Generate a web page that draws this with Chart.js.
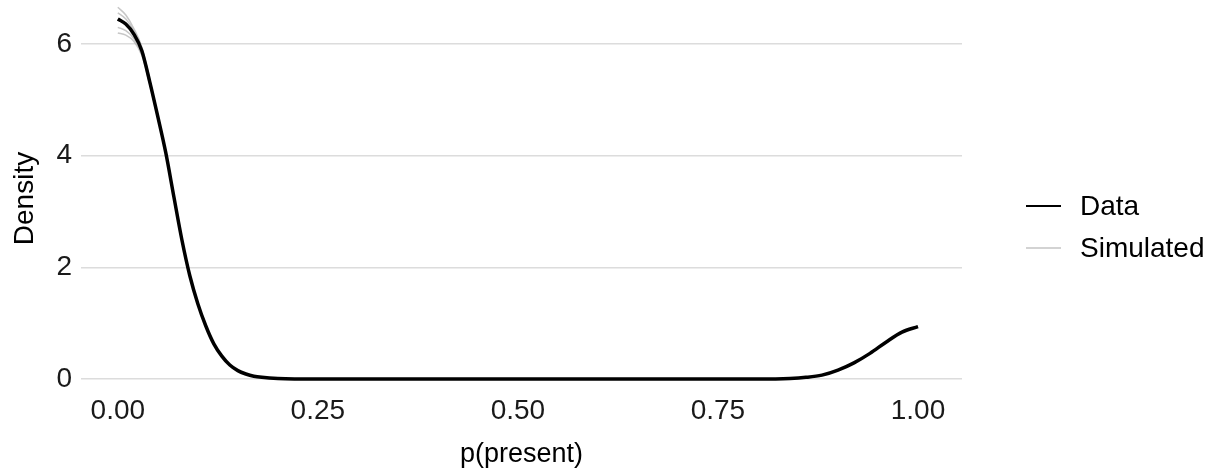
<!DOCTYPE html>
<html>
<head>
<meta charset="utf-8">
<script src="https://cdn.jsdelivr.net/npm/chart.js@4"></script>
<style>
  html, body { margin: 0; padding: 0; background: #fff; }
  #wrap { width: 1218px; height: 475px; }
</style>
</head>
<body>
<div id="wrap"><canvas id="myChart"></canvas></div>
<script>
// x grid of the density estimates
var xValues = [0, 0.01, 0.02, 0.03, 0.04, 0.05, 0.06, 0.07, 0.08, 0.09,
  0.10, 0.11, 0.12, 0.13, 0.14, 0.15, 0.16, 0.17, 0.18, 0.20,
  0.25, 0.40, 0.55, 0.70, 0.80, 0.84, 0.86, 0.88, 0.90, 0.92,
  0.94, 0.96, 0.98, 1.00];

var dataValues = [6.45, 6.36, 6.18, 5.88, 5.32, 4.70, 4.05, 3.27, 2.50, 1.85,
  1.35, 0.95, 0.63, 0.41, 0.25, 0.15, 0.09, 0.05, 0.03, 0.01,
  0, 0, 0, 0, 0, 0.01, 0.03, 0.07, 0.16, 0.29,
  0.46, 0.66, 0.84, 0.94];

var sim1 = [6.66, 6.52, 6.28, 5.95, 5.36, 4.72, 4.06, 3.27, 2.50, 1.85,
  1.35, 0.95, 0.63, 0.41, 0.25, 0.15, 0.09, 0.05, 0.03, 0.01,
  0, 0, 0, 0, 0, 0.01, 0.03, 0.07, 0.16, 0.29,
  0.46, 0.66, 0.84, 0.95];
var sim2 = [6.56, 6.45, 6.24, 5.92, 5.34, 4.71, 4.05, 3.27, 2.50, 1.85,
  1.35, 0.95, 0.63, 0.41, 0.25, 0.15, 0.09, 0.05, 0.03, 0.01,
  0, 0, 0, 0, 0, 0.01, 0.03, 0.07, 0.16, 0.29,
  0.46, 0.66, 0.84, 0.94];
var sim3 = [6.30, 6.24, 6.10, 5.83, 5.29, 4.68, 4.04, 3.27, 2.50, 1.85,
  1.35, 0.95, 0.63, 0.41, 0.25, 0.15, 0.09, 0.05, 0.03, 0.01,
  0, 0, 0, 0, 0, 0.01, 0.03, 0.07, 0.16, 0.29,
  0.46, 0.66, 0.84, 0.94];
var sim4 = [6.20, 6.16, 6.05, 5.80, 5.27, 4.67, 4.04, 3.27, 2.50, 1.85,
  1.35, 0.95, 0.63, 0.41, 0.25, 0.15, 0.09, 0.05, 0.03, 0.01,
  0, 0, 0, 0, 0, 0.01, 0.03, 0.07, 0.16, 0.29,
  0.46, 0.66, 0.84, 0.93];

var xTicks = [0, 0.25, 0.5, 0.75, 1];
var yTicks = [0, 2, 4, 6];
var legendLabels = ["Data", "Simulated"];
var legendColors = ["#000000", "#c4c4c4"];

var FONT = "'Liberation Sans', Arial, sans-serif";

function pts(ys) {
  return xValues.map(function (x, i) { return { x: x, y: ys[i] }; });
}

// Data first so it is painted on top of the simulated draws
var datasets = [{ label: "Data", data: pts(dataValues), borderColor: "#000000", borderWidth: 3.5,
  pointRadius: 0, fill: false, cubicInterpolationMode: "monotone" }];
var simColor = "rgba(180,180,180,0.75)";
[sim1, sim2, sim3, sim4].forEach(function (s) {
  datasets.push({ label: "Simulated", data: pts(s), borderColor: simColor, borderWidth: 1.5,
    pointRadius: 0, fill: false, cubicInterpolationMode: "monotone" });
});

// legend on the right, drawn like ggplot's
var sideLegend = {
  id: "sideLegend",
  afterDraw: function (chart) {
    var ctx = chart.ctx;
    var ys = [206, 248];
    ctx.save();
    ctx.font = "28px " + FONT;
    ctx.textBaseline = "middle";
    ctx.textAlign = "left";
    for (var i = 0; i < legendLabels.length; i++) {
      ctx.strokeStyle = legendColors[i];
      ctx.lineWidth = i === 0 ? 2 : 1.5;
      ctx.beginPath();
      ctx.moveTo(1026, ys[i]);
      ctx.lineTo(1061, ys[i]);
      ctx.stroke();
      ctx.fillStyle = "#000";
      ctx.fillText(legendLabels[i], 1080, ys[i] + 1);
    }
    ctx.restore();
  }
};

function noPad(s) {
  s.paddingTop = 0; s.paddingBottom = 0; s.paddingLeft = 0; s.paddingRight = 0;
}

new Chart("myChart", {
  type: "line",
  data: { datasets: datasets },
  plugins: [sideLegend],
  options: {
    responsive: true,
    maintainAspectRatio: false,
    animation: false,
    layout: { padding: { top: 0, right: 256, left: 0, bottom: 0 } },
    plugins: { legend: { display: false }, tooltip: { enabled: false } },
    scales: {
      x: {
        type: "linear",
        min: -0.046,
        max: 1.055,
        afterFit: function (s) { s.height = 78; noPad(s); },
        afterBuildTicks: function (s) { s.ticks = xTicks.map(function (v) { return { value: v }; }); },
        grid: { display: false, drawTicks: false },
        border: { display: false },
        ticks: {
          padding: -3,
          color: "#1a1a1a",
          font: { family: FONT, size: 28 },
          callback: function (v) { return Number(v).toFixed(2); }
        },
        title: {
          display: true,
          text: "p(present)",
          color: "#000",
          font: { family: FONT, size: 27 },
          padding: { top: 2, bottom: 4 }
        }
      },
      y: {
        min: -0.322,
        max: 6.79,
        afterFit: function (s) { s.width = 81; noPad(s); },
        afterBuildTicks: function (s) { s.ticks = yTicks.map(function (v) { return { value: v }; }); },
        grid: { color: "#dcdcdc", lineWidth: 1.5, drawTicks: false },
        border: { display: false },
        ticks: {
          padding: 9,
          color: "#1a1a1a",
          font: { family: FONT, size: 28 }
        },
        title: {
          display: true,
          text: "Density",
          color: "#000",
          font: { family: FONT, size: 28 },
          padding: { top: 8, bottom: 0 }
        }
      }
    }
  }
});
</script>
</body>
</html>
